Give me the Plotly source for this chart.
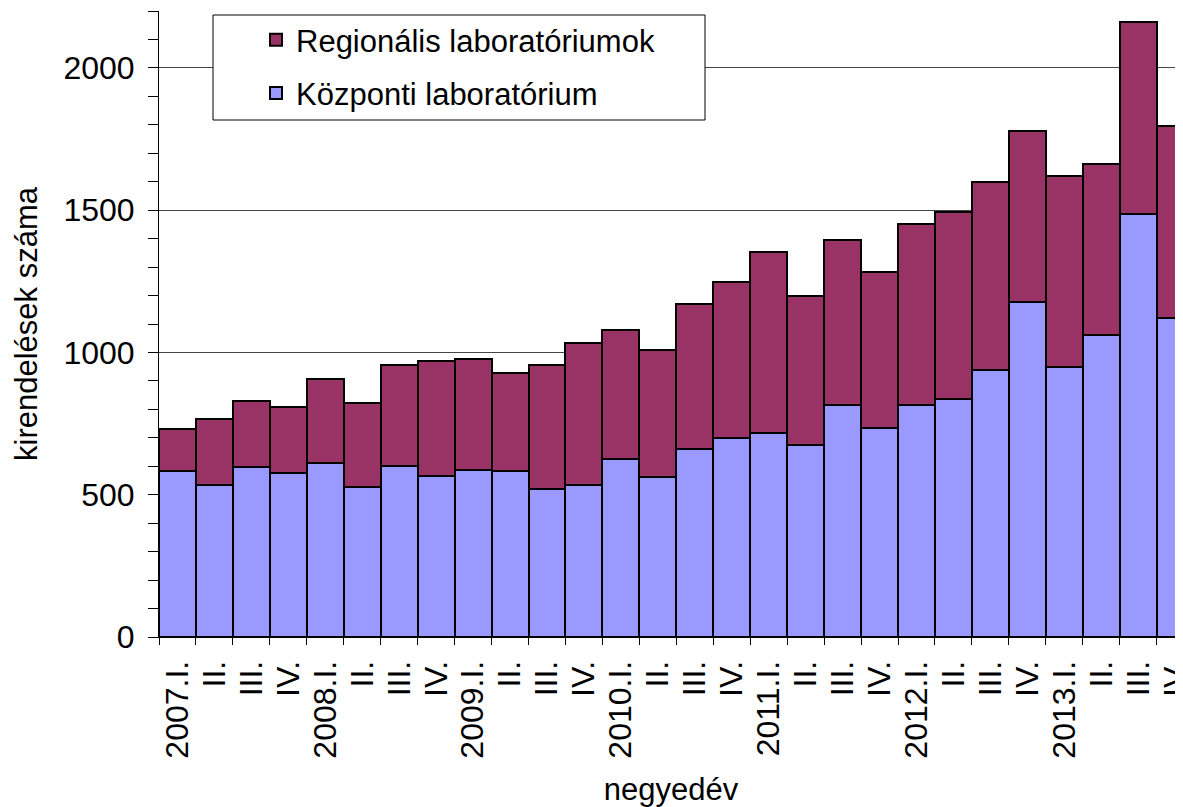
import plotly.graph_objects as go

quarters = ["2007.I.", "II.", "III.", "IV.",
            "2008.I.", "II.", "III.", "IV.",
            "2009.I.", "II.", "III.", "IV.",
            "2010.I.", "II.", "III.", "IV.",
            "2011.I.", "II.", "III.", "IV.",
            "2012.I.", "II.", "III.", "IV.",
            "2013.I.", "II.", "III.", "IV."]
x_keys = [f"q{i}" for i in range(len(quarters))]

kozponti = [582, 533, 596, 576, 611, 526, 602, 567, 588, 582, 519, 535,
            626, 562, 661, 698, 718, 675, 816, 733, 816, 838, 937, 1178,
            950, 1063, 1486, 1120]
osszes = [731, 765, 829, 809, 907, 823, 955, 971, 977, 927, 955, 1035,
          1079, 1007, 1171, 1248, 1354, 1199, 1396, 1284, 1452, 1495, 1598, 1780,
          1619, 1661, 2160, 1795]
regionalis = [t - c for t, c in zip(osszes, kozponti)]

FONT = "Liberation Sans, Arial, sans-serif"
FS = 31
TFS = 32

# plot area in screen pixels; the page body adds an 8px offset
OFF = 8
SL, SR, ST, SB = 159, 1183, 11, 637
W, H = 1183 - OFF, 807 - OFF
BAR_PX = 36.95  # width of one category in the reference (last bar is cropped)

def px_x(p):
    return (p - SL) / (SR - SL)

def px_y(p):
    return (SB - p) / (SB - ST)

fig = go.Figure()
fig.add_trace(go.Bar(
    x=x_keys, y=kozponti, name="Központi laboratórium", legendgroup="k", legendrank=2,
    marker=dict(color="#9999FF", line=dict(color="black", width=2)),
))
fig.add_trace(go.Bar(
    x=x_keys, y=regionalis, name="Regionális laboratóriumok", legendgroup="r", legendrank=1,
    marker=dict(color="#993366", line=dict(color="black", width=2)),
))

# legend frame
fig.add_shape(type="rect", xref="paper", yref="paper",
              x0=px_x(213), x1=px_x(705), y0=px_y(120), y1=px_y(15),
              fillcolor="white", line=dict(color="black", width=1), layer="above")

fig.update_layout(
    width=W, height=H,
    barmode="stack", bargap=0,
    plot_bgcolor="white", paper_bgcolor="white",
    margin=dict(l=SL - OFF, r=W - (SR - OFF), t=ST - OFF, b=H - (SB - OFF), autoexpand=False),
    font=dict(family=FONT, size=FS, color="black"),
    showlegend=True,
    legend=dict(
        x=px_x(256), y=px_y(13), xanchor="left", yanchor="top",
        bgcolor="rgba(0,0,0,0)", borderwidth=0,
        traceorder="grouped",
        font=dict(family=FONT, size=FS, color="black"),
        itemwidth=30,
        tracegroupgap=10,
    ),
    xaxis=dict(
        tickmode="array", tickvals=x_keys, ticktext=quarters,
        tickangle=-90, tickson="boundaries",
        ticks="outside", ticklen=7, tickcolor="black",
        showline=True, linecolor="black", linewidth=1,
        showgrid=False, automargin=False,
        ticklabelstandoff=10,
        title=dict(text="negyedév", font=dict(family=FONT, size=FS), standoff=20),
        tickfont=dict(family=FONT, size=TFS),
        range=[-0.5, -0.5 + (SR - SL) / BAR_PX],
    ),
    yaxis=dict(
        range=[0, 2200], dtick=500, tick0=0,
        ticks="outside", ticklen=10, tickcolor="black",
        showline=True, linecolor="black", linewidth=1,
        showgrid=True, gridcolor="#444444", gridwidth=1,
        zeroline=False, automargin=False,
        ticklabelstandoff=7,
        minor=dict(dtick=100, ticks="outside", ticklen=10, tickcolor="black", showgrid=False),
        title=dict(text="kirendelések száma", font=dict(family=FONT, size=FS), standoff=16),
        tickfont=dict(family=FONT, size=TFS),
    ),
)

fig.write_html("out.html")
